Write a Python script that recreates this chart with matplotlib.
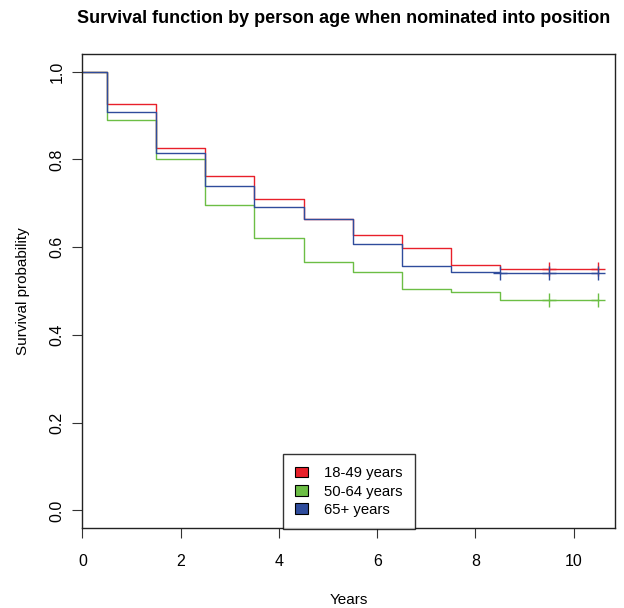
import numpy as np
import matplotlib.pyplot as plt
from matplotlib.patches import Patch

plt.rcParams['font.family'] = ['Liberation Sans', 'DejaVu Sans']

# Kaplan-Meier step estimates, one value per year interval
times = [0, 0.5, 1.5, 2.5, 3.5, 4.5, 5.5, 6.5, 7.5, 8.5, 10.5]
surv_18_49 = [1.0, 0.925, 0.825, 0.761, 0.710, 0.663, 0.627, 0.599, 0.559, 0.549, 0.549]
surv_50_64 = [1.0, 0.890, 0.800, 0.697, 0.621, 0.565, 0.543, 0.505, 0.497, 0.480, 0.480]
surv_65_up = [1.0, 0.907, 0.815, 0.739, 0.691, 0.663, 0.608, 0.558, 0.543, 0.541, 0.541]

# censoring times per group
cens_18_49 = [9.5, 10.5]
cens_50_64 = [9.5, 10.5]
cens_65_up = [8.5, 9.5, 10.5]

labels = ['18-49 years', '50-64 years', '65+ years']
colors = ['#E8202A', '#6CBE45', '#2F4C9C']

fig = plt.figure(figsize=(6.24, 6.08), dpi=100)
ax = fig.add_axes([0.1322, 0.1316, 0.8534, 0.7796])

groups = [(surv_18_49, cens_18_49), (surv_50_64, cens_50_64), (surv_65_up, cens_65_up)]
for (surv, cens), col in zip(groups, colors):
    ax.step(times, surv, where='post', color=col, lw=1.0)
    cy = [surv[np.searchsorted(times, c, side='right') - 1] for c in cens]
    ax.plot(cens, cy, ls='none', marker='+', ms=10, mew=1.0, color=col)

ax.set_xlim(0, 10.84)
ax.set_ylim(-0.04, 1.04)
ax.set_xticks([0, 2, 4, 6, 8, 10])
ax.set_yticks([0.0, 0.2, 0.4, 0.6, 0.8, 1.0])
ax.set_yticklabels(['0.0', '0.2', '0.4', '0.6', '0.8', '1.0'], rotation=90, va='center')
ax.tick_params(direction='out', length=7, width=0.8, labelsize=11.5, pad=12, color='#333333')
ax.tick_params(axis='y', pad=6)
for s in ax.spines.values():
    s.set_linewidth(1.0)
    s.set_color('#222222')

ax.set_xlabel('Years', fontsize=11, labelpad=17)
ax.set_ylabel('Survival probability', fontsize=11, labelpad=14)
ax.set_title('Survival function by person age when nominated into position',
             fontsize=13, fontweight='bold', pad=22, x=0.49)

handles = [Patch(facecolor=c, edgecolor='black', lw=0.8) for c in colors]
leg = ax.legend(handles, labels, loc='lower center', bbox_to_anchor=(0.5, -0.002),
                frameon=True, fancybox=False, fontsize=10.7, handlelength=0.9,
                handleheight=0.75, handletextpad=1.1, borderpad=0.8, labelspacing=0.3,
                borderaxespad=0)
leg.get_frame().set_edgecolor('black')
leg.get_frame().set_linewidth(1.0)

fig.savefig('out.png', dpi=100)
